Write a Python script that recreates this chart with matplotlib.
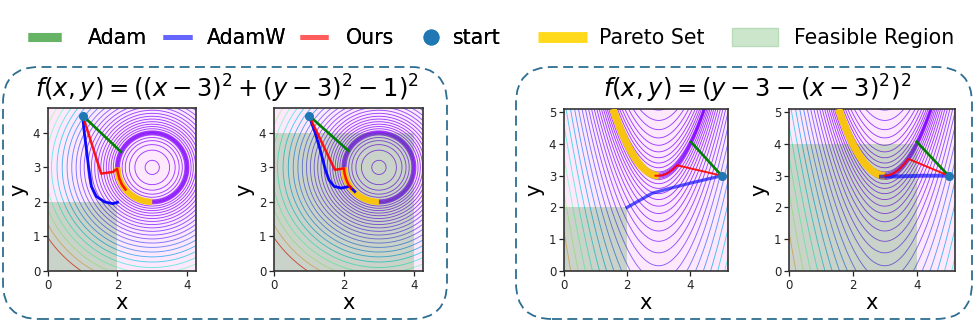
import numpy as np
import matplotlib
matplotlib.use("Agg")
import matplotlib.pyplot as plt
from matplotlib.lines import Line2D
from matplotlib.patches import Rectangle, FancyBboxPatch, Patch
from matplotlib.colors import Normalize
from matplotlib.legend_handler import HandlerBase

# ---------------- data ----------------
start_p1 = (1.0, 4.5)
adam_p1_x = [1.0, 2.1]
adam_p1_y = [4.5, 3.45]
adamw_p1_x = [1.0, 1.03, 1.10, 1.17, 1.25, 1.39, 1.63, 1.87, 2.0]
adamw_p1_y = [4.5, 4.14, 3.57, 2.99, 2.45, 2.16, 2.0, 1.95, 1.99]
ours_p1_x = [1.0, 1.53, 1.87, 1.99, 2.015, 2.06, 2.13, 2.23]
ours_p1_y = [4.5, 2.82, 2.87, 2.96, 2.83, 2.66, 2.50, 2.36]

start_p2 = (1.0, 4.5)
adam_p2_x = [1.0, 2.13]
adam_p2_y = [4.5, 3.48]
adamw_p2_x = [1.0, 1.18, 1.32, 1.47, 1.57, 1.72, 1.92, 2.16, 2.31]
adamw_p2_y = [4.5, 3.99, 3.51, 2.93, 2.64, 2.45, 2.40, 2.45, 2.30]
ours_p2_x = [1.0, 1.74, 2.0, 2.015, 2.06, 2.13, 2.2]
ours_p2_y = [4.5, 2.93, 2.97, 2.83, 2.66, 2.50, 2.40]

start_p3 = (5.0, 3.0)
adam_p3_x = [5.0, 4.03]
adam_p3_y = [3.0, 4.06]
adamw_p3_x = [5.0, 4.02, 3.39, 2.80, 2.0]
adamw_p3_y = [3.0, 2.77, 2.61, 2.45, 2.0]
ours_p3_x = [5.0, 3.58, 3.45, 3.30, 3.15, 3.0, 2.9]
ours_p3_y = [3.0, 3.33, 3.20, 3.09, 3.02, 3.0, 3.0]

start_p4 = (5.0, 3.0)
adam_p4_x = [5.0, 4.0]
adam_p4_y = [3.0, 4.07]
adamw_p4_x = [5.0, 4.2, 3.5, 2.88]
adamw_p4_y = [3.0, 3.0, 2.98, 2.97]
ours_p4_x = [5.0, 3.74, 3.60, 3.45, 3.30, 3.15, 3.0]
ours_p4_y = [3.0, 3.53, 3.36, 3.20, 3.09, 3.02, 3.0]

feasible_upper = [2.0, 4.0, 2.0, 4.0]
x_limits = [4.26, 4.26, 5.2, 5.2]
y_limits = [4.72, 4.72, 5.1, 5.1]

titles = [r"$f(x, y) = ((x-3)^2 + (y-3)^2 - 1)^2$",
          r"$f(x, y) = (y-3-(x-3)^2)^2$"]
legend_labels = ["Adam", "AdamW", "Ours", "start", "Pareto Set", "Feasible Region"]

# Pareto sets (analytic minimisers of each objective)
pareto_theta = np.linspace(np.pi, 1.5 * np.pi, 80)
pareto_circle_x = 3 + np.cos(pareto_theta)
pareto_circle_y = 3 + np.sin(pareto_theta)
pareto_parab_x = np.linspace(1.55, 3.0, 80)
pareto_parab_y = 3 + (pareto_parab_x - 3) ** 2

# contour levels: sqrt-level offsets, dense near the minimum
level_offsets = np.concatenate([[0.02, 0.045, 0.08],
                                np.expm1(0.112 * np.arange(1, 24))])
contour_levels = level_offsets ** 2


def f_ring(x, y):
    return ((x - 3) ** 2 + (y - 3) ** 2 - 1) ** 2


def f_valley(x, y):
    return (y - 3 - (x - 3) ** 2) ** 2


# ---------------- figure ----------------
W, H = 976, 322
fig = plt.figure(figsize=(W / 100, H / 100), dpi=100)

axes_px = [(48, 108, 196, 271), (274, 108, 423, 271),
           (564, 109, 728, 271), (789, 109, 955, 271)]

panels = [
    (f_ring, start_p1, adam_p1_x, adam_p1_y, adamw_p1_x, adamw_p1_y, ours_p1_x, ours_p1_y,
     pareto_circle_x, pareto_circle_y, 0.95, 2.0, 1.8, 4.6, [0, 1, 2, 3, 4]),
    (f_ring, start_p2, adam_p2_x, adam_p2_y, adamw_p2_x, adamw_p2_y, ours_p2_x, ours_p2_y,
     pareto_circle_x, pareto_circle_y, 0.95, 2.0, 1.8, 4.6, [0, 1, 2, 3, 4]),
    (f_valley, start_p3, adam_p3_x, adam_p3_y, adamw_p3_x, adamw_p3_y, ours_p3_x, ours_p3_y,
     pareto_parab_x, pareto_parab_y, 0.65, 2.3, 1.4, 5.4, [0, 1, 2, 3, 4, 5]),
    (f_valley, start_p4, adam_p4_x, adam_p4_y, adamw_p4_x, adamw_p4_y, ours_p4_x, ours_p4_y,
     pareto_parab_x, pareto_parab_y, 0.65, 2.8, 1.4, 5.4, [0, 1, 2, 3, 4, 5]),
]

norm = Normalize(vmin=0, vmax=contour_levels.max())

for i, (func, st, ax_x, ax_y, aw_x, aw_y, o_x, o_y, p_x, p_y,
        aw_alpha, aw_lw, o_lw, p_lw, yt) in enumerate(panels):
    l, t, r, b = axes_px[i]
    ax = fig.add_axes([l / W, 1 - b / H, (r - l) / W, (b - t) / H])
    ax.set_facecolor("#fde8fd")
    xs = np.linspace(0, x_limits[i] + 0.05, 600)
    ys = np.linspace(0, y_limits[i] + 0.05, 600)
    X, Y = np.meshgrid(xs, ys)
    Z = func(X, Y)
    ax.contour(X, Y, Z, levels=contour_levels, cmap="rainbow", norm=norm,
               linewidths=0.65, alpha=0.75, zorder=1)
    fu = feasible_upper[i]
    ax.add_patch(Rectangle((0, 0), fu, fu, facecolor="green", alpha=0.2,
                           edgecolor="none", zorder=2))
    ax.plot(p_x, p_y, color="#f7c511", lw=p_lw, solid_capstyle="butt", zorder=3)
    ax.plot(ax_x, ax_y, color="green", lw=1.9, zorder=4)
    ax.plot(aw_x, aw_y, color="blue", lw=aw_lw, alpha=aw_alpha, zorder=4)
    ax.plot(o_x, o_y, color="red", lw=o_lw, alpha=0.9, zorder=5)
    ax.plot([st[0]], [st[1]], "o", color="#1f77b4", ms=5.5, zorder=6)
    ax.set_xlim(0, x_limits[i])
    ax.set_ylim(0, y_limits[i])
    ax.set_xticks([0, 2, 4])
    ax.set_yticks(yt)
    ax.tick_params(labelsize=8.5, length=3.5, width=0.9, pad=2, colors="#222222")
    for s in ax.spines.values():
        s.set_color("#333333")
        s.set_linewidth(1.2)
    ax.set_xlabel("x", fontsize=15, labelpad=1)
    ax.set_ylabel("y", fontsize=15, labelpad=3)

# titles
fig.text(227 / W, 1 - 89 / H, titles[0], ha="center", va="center", fontsize=17.5)
fig.text(757 / W, 1 - 89 / H, titles[1], ha="center", va="center", fontsize=17.5)

# dashed rounded group boxes (in inches so the corners stay circular)
for (x0, x1) in [(3, 447), (516, 972)]:
    box = FancyBboxPatch((x0 / 100, 3 / 100), (x1 - x0) / 100, (319 - 67) / 100,
                         boxstyle="round,pad=0,rounding_size=0.36",
                         transform=fig.dpi_scale_trans, fill=False,
                         edgecolor="#2e6e91", lw=1.3, linestyle=(0, (5.5, 3)))
    fig.add_artist(box)


# ---------------- legend ----------------
class SegHandler(HandlerBase):
    def __init__(self, kind, x0, x1=None, lw=1.0, color="k", hfrac=1.0, ec=None):
        super().__init__()
        self.kind, self.x0, self.x1 = kind, x0, x1
        self.lw, self.color, self.hfrac, self.ec = lw, color, hfrac, ec

    def create_artists(self, legend, orig_handle, xdescent, ydescent, width, height,
                       fontsize, trans):
        yc = -ydescent + height / 2
        if self.kind == "line":
            a = Line2D([-xdescent + self.x0 * width, -xdescent + self.x1 * width], [yc, yc],
                       lw=self.lw, color=self.color,
                       solid_capstyle="butt", transform=trans)
        elif self.kind == "marker":
            a = Line2D([-xdescent + self.x0 * width], [yc], marker="o", ls="none",
                       ms=self.lw, color=self.color, transform=trans)
        else:
            h = height * self.hfrac
            a = Rectangle((-xdescent + self.x0 * width, yc - h / 2),
                          (self.x1 - self.x0) * width, h, facecolor=self.color,
                          edgecolor=self.ec, lw=1.0, transform=trans)
        return [a]


h_adam = Line2D([], [])
h_adamw = Line2D([], [])
h_ours = Line2D([], [])
h_start = Line2D([], [])
h_pareto = Line2D([], [])
h_feas = Patch()

fs = 14.8
leg1 = fig.legend([h_adam, h_adamw, h_ours, h_start], legend_labels[:4],
                  loc="center left", bbox_to_anchor=(38 / W, 1 - 38 / H),
                  ncol=4, frameon=False, fontsize=fs, borderpad=0, borderaxespad=0,
                  handlelength=1.75, handletextpad=0.68, columnspacing=0.46,
                  handler_map={
                      h_adam: SegHandler("line", -0.28, 0.64, lw=6.5, color="#66b366"),
                      h_adamw: SegHandler("line", 0.19, 0.97, lw=3.6, color="#6666ff"),
                      h_ours: SegHandler("line", 0.11, 0.89, lw=3.6, color="#ff5c5c"),
                      h_start: SegHandler("marker", 0.78, lw=10.5, color="#1f77b4"),
                  })
fig.add_artist(leg1)
leg2 = fig.legend([h_pareto, h_feas], legend_labels[4:],
                  loc="center left", bbox_to_anchor=(537 / W, 1 - 38 / H),
                  ncol=2, frameon=False, fontsize=fs, borderpad=0, borderaxespad=0,
                  handlelength=2.24, handletextpad=0.78, columnspacing=1.31,
                  handler_map={
                      h_pareto: SegHandler("line", 0.02, 1.08, lw=7.8, color="#ffd91a"),
                      h_feas: SegHandler("rect", 0.0, 1.0, color="#cce6cc",
                                         hfrac=1.25, ec="#b8dcb8"),
                  })

fig.savefig("out.png", dpi=100)
